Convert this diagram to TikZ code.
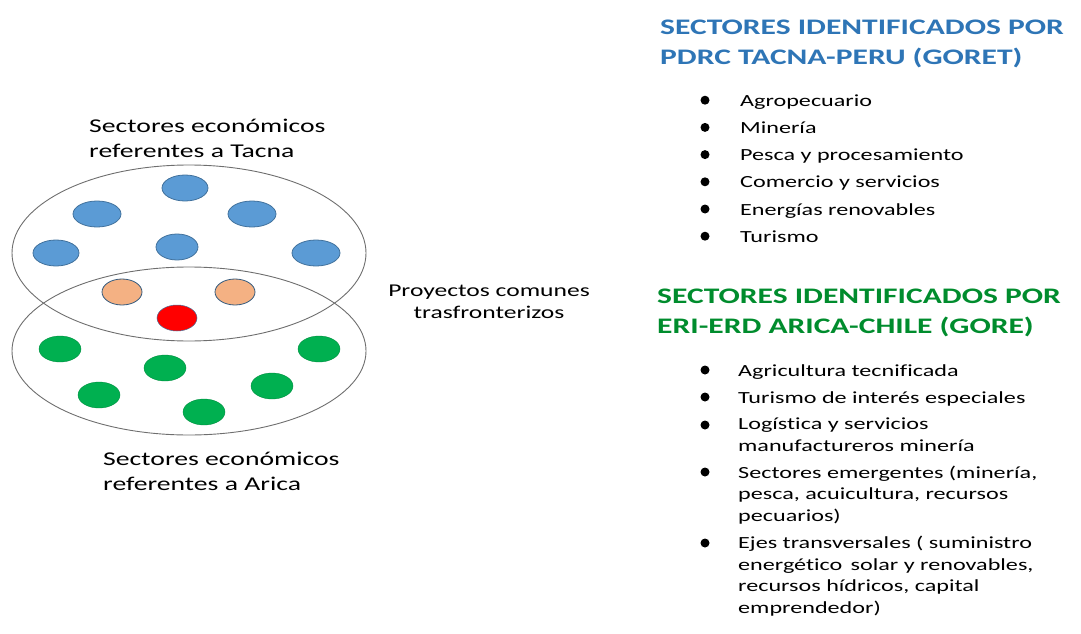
\documentclass[tikz,border=0pt]{standalone}
\usepackage{fontspec}
\usepackage{xcolor}
\usetikzlibrary{positioning, shapes.geometric}
\setmainfont[FakeStretch=1.42, Ligatures=CommonOff]{Carlito}
\definecolor{hdBlue}{RGB}{46, 117, 182}
\definecolor{hdGreen}{RGB}{0, 140, 45}
\definecolor{dotBlue}{RGB}{91, 155, 213}
\definecolor{dotBlueEdge}{RGB}{65, 113, 156}
\definecolor{dotOrange}{RGB}{244, 177, 131}
\definecolor{dotGreen}{RGB}{0, 176, 80}
\definecolor{setGray}{RGB}{110, 110, 110}
\tikzset{
    setring/.style={
        ellipse,
        draw=setGray,
        line width=0.9pt,
        inner sep=0pt
    },
    dot/.style={
        ellipse,
        inner sep=0pt,
        line width=0.8pt,
        minimum width=42pt,
        minimum height=26pt
    },
    tacnadot/.style={dot, fill=dotBlue, draw=dotBlueEdge, minimum width=46pt},
    commondot/.style={dot, fill=dotOrange, draw=dotBlueEdge!80!black, minimum width=40pt},
    keydot/.style={dot, fill=red, draw=dotBlueEdge, line width=0.5pt, minimum width=40pt},
    aricadot/.style={dot, fill=dotGreen, draw=dotGreen!80!black, line width=0.4pt},
    caption/.style={
        font=\fontsize{19.5}{25}\selectfont,
        align=left,
        inner sep=0pt,
        anchor=base west
    },
    heading/.style={
        font=\bfseries\fontsize{22.2}{30}\selectfont,
        align=left,
        inner sep=0pt,
        anchor=base west
    },
    item/.style={
        font=\fontsize{17}{21.5}\selectfont,
        align=left,
        inner sep=0pt,
        anchor=base west
    },
    bullet/.style={circle, fill=black, inner sep=0pt, minimum size=9pt}
}

\begin{document}
\begin{tikzpicture}[x=1pt, y=-1pt]
    \useasboundingbox (0,0) rectangle (1081,634);

    % Sets
    \node[setring, minimum width=354pt, minimum height=176pt] (tacna) at (189,253) {};
    \node[setring, minimum width=354pt, minimum height=168pt] (arica) at (189,351) {};

    % Tacna sectors
    \node[tacnadot] (t1) at (185,188) {};
    \node[tacnadot, minimum width=48pt] (t2) at (97,214) {};
    \node[tacnadot, minimum width=48pt] (t3) at (252,214) {};
    \node[tacnadot] (t4) at (56,253) {};
    \node[tacnadot, minimum width=42pt] (t5) at (177,247) {};
    \node[tacnadot, minimum width=48pt] (t6) at (316,253) {};

    % Common projects
    \node[commondot] (c1) at (122,292) {};
    \node[commondot] (c2) at (235,292) {};
    \node[keydot] (c3) at (177,318) {};

    % Arica sectors
    \node[aricadot] (a1) at (60,349) {};
    \node[aricadot] (a2) at (165,368) {};
    \node[aricadot] (a3) at (319,349) {};
    \node[aricadot] (a4) at (99,395) {};
    \node[aricadot] (a5) at (272,386) {};
    \node[aricadot] (a6) at (204,412) {};

    % Captions (base = last line)
    \node[caption] (capTacna) at (89,157) {Sectores económicos\\referentes a Tacna};
    \node[caption] (capArica) at (103,490) {Sectores económicos\\referentes a Arica};
    \node[caption, align=center, anchor=base, font=\fontsize{18}{22}\selectfont] (capCommon) at (489,318) {Proyectos comunes\\trasfronterizos};

    % Tacna list
    \node[heading, text=hdBlue] (hTacna) at (660,65) {SECTORES IDENTIFICADOS POR\\PDRC TACNA-PERU (GORET)};
    \foreach \txt [count=\i] in {Agropecuario, Minería, Pesca y procesamiento, Comercio y servicios, Energías renovables, Turismo} {
        \node[item] (tItem\i) at (740,{79+27.2*\i}) {\txt};
        \node[bullet] (tBul\i) at (705,{73+27.2*\i}) {};
    }

    % Arica list
    \node[heading, text=hdGreen] (hArica) at (657,333) {SECTORES IDENTIFICADOS POR\\ERI-ERD ARICA-CHILE (GORE)};
    \node[item] (aItem1) at (738,376) {Agricultura tecnificada};
    \node[item] (aItem2) at (738,403) {Turismo de interés especiales};
    \node[item] (aItem3) at (738,451) {Logística y servicios\\manufactureros minería};
    \node[item] (aItem4) at (738,521) {Sectores emergentes (minería,\\pesca, acuicultura, recursos\\pecuarios)};
    \node[item] (aItem5) at (738,613) {Ejes transversales ( suministro\\energético\, solar y renovables,\\recursos hídricos, capital\\emprendedor)};
    \foreach \yy [count=\i] in {370, 397, 425, 472, 543} {
        \node[bullet] (aBul\i) at (705,\yy) {};
    }
\end{tikzpicture}
\end{document}
